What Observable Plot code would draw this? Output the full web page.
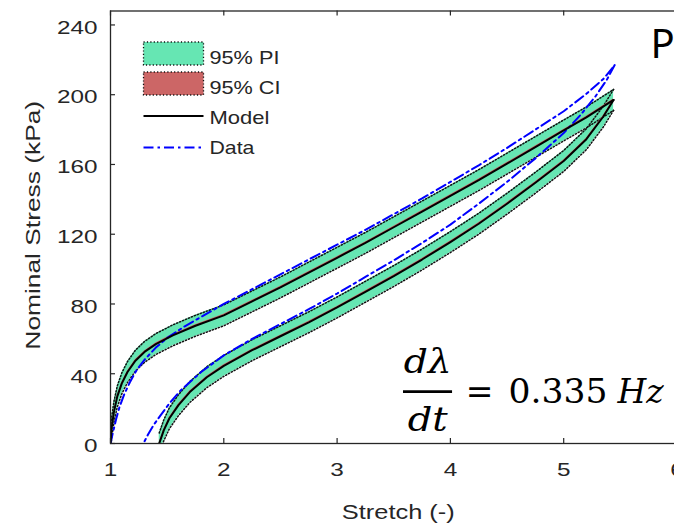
<!DOCTYPE html>
<html>
<head>
<meta charset="utf-8">
<script src="https://cdn.jsdelivr.net/npm/d3@7"></script>
<script src="https://cdn.jsdelivr.net/npm/@observablehq/plot@0.6"></script>
<style>
  body { margin: 0; background: #fff; overflow: hidden; }
  #chart { position: relative; width: 674px; height: 527px; overflow: hidden; }
</style>
</head>
<body>
<div id="chart"></div>
<script>
// ---- data ----
const xTicks = [1, 2, 3, 4, 5, 6];
const yTicks = [0, 40, 80, 120, 160, 200, 240];

// Model, loading branch (upper)
const modelUpX = [1.00, 1.01, 1.03, 1.06, 1.10, 1.15, 1.22, 1.30, 1.40, 1.55, 1.75, 2.00, 2.25, 2.50, 2.75, 3.00, 3.25, 3.50, 3.75, 4.00, 4.25, 4.50, 4.75, 5.00, 5.20, 5.44];
const modelUpY = [0, 9, 18, 27, 34.5, 41, 47.5, 52.5, 57, 62, 67.5, 73.5, 81.5, 89.5, 98, 106.5, 115, 124, 133, 142, 151, 160.5, 170, 179.5, 187, 197];
// Model, unloading branch (lower)
const modelDnX = [5.44, 5.35, 5.20, 5.00, 4.75, 4.50, 4.25, 4.00, 3.75, 3.50, 3.25, 3.00, 2.75, 2.50, 2.25, 2.00, 1.85, 1.70, 1.60, 1.52, 1.47, 1.43];
const modelDnY = [197, 187.5, 174.5, 162, 149.5, 137.5, 126, 115.5, 105.5, 96, 87, 78, 69.5, 61.5, 53.5, 44.5, 38, 29.5, 22, 14.5, 7.5, 0];
// Data, loading branch
const dataUpX = [1.00, 1.02, 1.05, 1.08, 1.12, 1.17, 1.23, 1.30, 1.40, 1.50, 1.65, 1.85, 2.00, 2.25, 2.50, 2.75, 3.00, 3.25, 3.50, 3.75, 4.00, 4.25, 4.50, 4.75, 5.00, 5.20, 5.35, 5.45];
const dataUpY = [0, 6, 14, 21, 28, 35, 42, 48, 55, 60.5, 67, 74.5, 80, 88.5, 97, 105.5, 114, 122.5, 131.5, 140.5, 150, 159.5, 169.5, 180, 190.5, 200.5, 209, 217];
// Data, unloading branch
const dataDnX = [5.45, 5.38, 5.28, 5.15, 5.00, 4.75, 4.50, 4.25, 4.00, 3.75, 3.50, 3.25, 3.00, 2.75, 2.50, 2.25, 2.00, 1.80, 1.62, 1.52, 1.44, 1.38, 1.33, 1.29];
const dataDnY = [217, 208.5, 199, 188.5, 178, 163.5, 150, 137.5, 125.5, 115, 105, 95.5, 86, 77, 68.5, 60, 50.5, 41, 30.5, 23, 16, 10.5, 5, 0];

const piHalf = 6;    // half width of the 95% prediction interval (kPa)
const ciHalf = 0.6;  // half width of the 95% confidence interval (kPa)

const legendLabels = ["95% PI", "95% CI", "Model", "Data"];

// ---- tables ----
const toRows = (xs, ys) => xs.map((x, i) => ({x, y: ys[i]}));
const modelUp = toRows(modelUpX, modelUpY);
const modelDn = toRows(modelDnX, modelDnY);
const dataUp = toRows(dataUpX, dataUpY);
const dataDn = toRows(dataDnX, dataDnY);
const models = [modelUp, modelDn];
const datas = [dataUp, dataDn];

const GREEN = "rgb(102,230,179)";
const RED = "rgb(204,102,102)";
const BLUE = "rgb(0,0,255)";
const AX = "#262626";
const SANS = "'Liberation Sans', Arial, sans-serif";
const SERIF = "'DejaVu Serif', serif";

const bandMarks = [];
for (const m of models) {
  bandMarks.push(Plot.areaY(m, {x: "x", y1: d => d.y - piHalf, y2: d => d.y + piHalf, fill: GREEN, clip: true}));
}
for (const m of models) {
  bandMarks.push(Plot.line(m, {x: "x", y: d => d.y + piHalf, stroke: "#111", strokeWidth: 1.5, strokeDasharray: "1.2 2", clip: true}));
  bandMarks.push(Plot.line(m, {x: "x", y: d => d.y - piHalf, stroke: "#111", strokeWidth: 1.5, strokeDasharray: "1.2 2", clip: true}));
}
for (const m of models) {
  bandMarks.push(Plot.areaY(m, {x: "x", y1: d => d.y - ciHalf, y2: d => d.y + ciHalf, fill: RED, clip: true}));
}

const plot = Plot.plot({
  width: 674,
  height: 527,
  marginLeft: 110,
  marginRight: -2.5,
  marginTop: 10.5,
  marginBottom: 84,
  x: {domain: [1, 6]},
  y: {domain: [0, 248]},
  style: {fontFamily: SANS, color: AX, background: "white"},
  marks: [
    ...bandMarks,
    ...datas.map(d => Plot.line(d, {x: "x", y: "y", stroke: BLUE, strokeWidth: 2, strokeDasharray: "10 4 2.5 4", clip: true})),
    ...models.map(m => Plot.line(m, {x: "x", y: "y", stroke: "black", strokeWidth: 2, clip: true})),
    Plot.frame({stroke: AX, strokeWidth: 1.3}),
    Plot.tickX(xTicks, {x: d => d, insetTop: 427.5, stroke: AX, strokeWidth: 1.2}),
    Plot.tickX(xTicks, {x: d => d, insetBottom: 427.5, stroke: AX, strokeWidth: 1.2}),
    Plot.tickY(yTicks, {y: d => d, insetRight: 561.5, stroke: AX, strokeWidth: 1.2}),
    Plot.axisX({ticks: xTicks, tickSize: 0, tickPadding: 20, fontSize: 18, label: null, tickFormat: d => String(d)}),
    Plot.axisY({ticks: yTicks, tickSize: 0, tickPadding: 13, fontSize: 18, dy: 3, label: null, tickFormat: d => String(d)}),
    Plot.text(["Stretch (-)"], {frameAnchor: "bottom", lineAnchor: "middle", textAnchor: "middle", dx: 4.5, dy: 69, fontSize: 20, fill: AX}),
    Plot.text(["Nominal Stress (kPa)"], {frameAnchor: "left", textAnchor: "middle", lineAnchor: "middle", dx: -77, dy: -2, rotate: -90, fontSize: 20, fill: AX}),
    // rate annotation
    Plot.text(["dλ"], {x: 3.80, y: 40.7, lineAnchor: "bottom", fontSize: 33, fontFamily: SERIF, fontStyle: "italic", fill: "black"}),
    Plot.text(["dt"], {x: 3.80, y: 7.45, lineAnchor: "bottom", fontSize: 33, fontFamily: SERIF, fontStyle: "italic", fill: "black"}),
    Plot.ruleY([29.8], {x1: 3.586, x2: 4.019, stroke: "black", strokeWidth: 2.8}),
    Plot.text(["="], {x: 4.257, y: 23.5, lineAnchor: "bottom", fontSize: 33, fontFamily: SERIF, fill: "black"}),
    Plot.text(["0.335"], {x: 4.513, y: 23.5, lineAnchor: "bottom", textAnchor: "start", fontSize: 33, fontFamily: SERIF, fill: "black"}),
    Plot.text(["Hz"], {x: 5.475, y: 23.5, lineAnchor: "bottom", textAnchor: "start", fontSize: 33, fontFamily: SERIF, fontStyle: "italic", fill: "black"}),
    Plot.text(["P"], {x: 5.766, y: 221.3, lineAnchor: "bottom", textAnchor: "start", fontSize: 40, fontFamily: "'Noto Sans', sans-serif", fill: "black"})
  ]
});

document.getElementById("chart").appendChild(plot);

// horizontal widening of a text along its own direction, about its anchor point
function widen(el, s) {
  const b = el.getBBox();
  const anchor = getComputedStyle(el).textAnchor;
  const ax = anchor === "middle" ? b.x + b.width / 2 : anchor === "end" ? b.x + b.width : b.x;
  const t = el.getAttribute("transform") || "";
  el.setAttribute("transform", `${t} translate(${ax},0) scale(${s},1) translate(${-ax},0)`);
}

// ---- legend (top-left inside the axes) ----
const svg = d3.select(plot);
const lg = svg.append("g").attr("aria-label", "legend").attr("text-anchor", "start");
const swatches = [{fill: GREEN, y: 42}, {fill: RED, y: 72}];
swatches.forEach(s => {
  lg.append("rect").attr("x", 143.5).attr("y", s.y).attr("width", 60).attr("height", 23)
    .attr("fill", s.fill).attr("stroke", "#111").attr("stroke-width", 1.3).attr("stroke-dasharray", "1.2 2.2");
});
lg.append("line").attr("x1", 143.5).attr("x2", 203.5).attr("y1", 116).attr("y2", 116)
  .attr("stroke", "black").attr("stroke-width", 2.2);
lg.append("line").attr("x1", 143.5).attr("x2", 203.5).attr("y1", 147.5).attr("y2", 147.5)
  .attr("stroke", BLUE).attr("stroke-width", 2.2).attr("stroke-dasharray", "10 4 2.5 4");
const legendY = [57.5, 87.5, 117.5, 148];
const legendW = [70, 71, 60, 45];
legendLabels.forEach((t, i) => {
  const el = lg.append("text").attr("x", 209.5).attr("y", legendY[i]).attr("dy", "0.35em")
    .attr("text-anchor", "start")
    .attr("font-family", SANS).attr("font-size", 18).attr("fill", AX).text(t).node();
  widen(el, legendW[i] / el.getComputedTextLength());
});

// widen tick labels and titles like the low-resolution MATLAB rendering
svg.selectAll('g[aria-label="x-axis tick label"] text, g[aria-label="y-axis tick label"] text').each(function() {
  widen(this, 1.35);
});
const targets = {"Stretch (-)": 113, "Nominal Stress (kPa)": 249, "0.335": 99, "dλ": 48, "dt": 40};
svg.selectAll("text").each(function() {
  const w = targets[this.textContent];
  if (w) widen(this, w / this.getComputedTextLength());
});
</script>
</body>
</html>
